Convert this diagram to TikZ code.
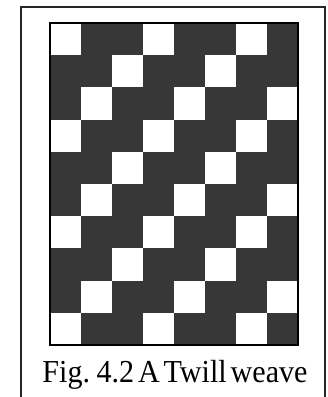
\documentclass[tikz,border=0pt]{standalone}
\usepackage{fontspec}
\setmainfont{Liberation Serif}
\definecolor{weftdark}{RGB}{55,55,55}
\tikzset{
  frameline/.style={line width=2pt, black!85},
  gridline/.style={line width=1.5pt, black},
  warpup/.style={fill=white},
}

\begin{document}
\begin{tikzpicture}[x=1pt, y=-1pt]
\useasboundingbox (0,0) rectangle (328,397);
% outer frame, open at the bottom
\draw[frameline] (21,400) -- (21,7) -- (325,7) -- (325,400);
% weave grid: 8 ends by 10 picks
\fill[weftdark] (50,23) rectangle (298,345);
\foreach \r in {0,...,9} {
  \foreach \c in {0,...,7} {
    \pgfmathtruncatemacro{\m}{mod(\c+\r,3)}
    \ifnum\m=0
      \fill[warpup] (50+31*\c,23+32.2*\r) rectangle ++(31,32.2);
    \fi
  }
}
\draw[gridline] (50,23) rectangle (298,345);
\node (caption) [anchor=base, inner sep=0pt, xscale=0.94, transform shape,
  font=\fontsize{32}{32}\selectfont] at (175,382) {\spaceskip=0.13em\relax Fig. 4.2 A Twill weave};
\end{tikzpicture}
\end{document}
